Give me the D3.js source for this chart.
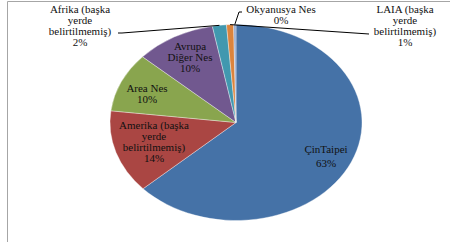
<!DOCTYPE html>
<html><head><meta charset="utf-8">
<script src="https://cdn.jsdelivr.net/npm/d3@7"></script>
<style>html,body{margin:0;padding:0;background:#fff;}svg{display:block;}</style>
</head><body>
<svg id="c" width="450" height="242"></svg>
<script>
const categories = ["ÇinTaipei", "Amerika (başka yerde belirtilmemiş)", "Area Nes", "Avrupa Diğer Nes", "Afrika (başka yerde belirtilmemiş)", "LAIA (başka yerde belirtilmemiş)", "Okyanusya Nes"];
const values = [63.2, 13.7, 9.8, 10.3, 1.8, 0.9, 0.3];
const colors = ["#4572A7", "#AA4643", "#89A54E", "#71588F", "#4198AF", "#DB843D", "#93A9CF"];
const labelLines = [
  ["ÇinTaipei"],
  ["Amerika (başka", "yerde", "belirtilmemiş)"],
  ["Area Nes"],
  ["Avrupa", "Diğer Nes"],
  ["Afrika (başka", "yerde", "belirtilmemiş)"],
  ["LAIA (başka", "yerde", "belirtilmemiş)"],
  ["Okyanusya Nes"]
];
// label anchor: center x, first baseline y
const labelPos = [[326,153],[154,129],[147,92],[190,50],[80,13],[405,13],[281,13]];
// leader line start points (near text) for outside labels
const leaderStart = {4: [[118,33],[122,33]], 5: [[369,34]], 6: [[242,12],[239,12]]};

const svg = d3.select("#c");
// frame
svg.append("path").attr("d","M7.5,242 V1.5 H450").attr("fill","none").attr("stroke","#a6a6a6").attr("stroke-width",1);

const cx = 236, cy = 122.5, rx = 126, ry = 98;
const total = d3.sum(values);
const pie = d3.pie().sort(null).value(d=>d)(values);
const arc = d3.arc().innerRadius(0).outerRadius(rx);
const g = svg.append("g").attr("transform",`translate(${cx},${cy}) scale(1,${ry/rx})`);
g.selectAll("path").data(pie).join("path")
  .attr("d",arc).attr("fill",(d,i)=>colors[i])
  .attr("stroke","#ffffff").attr("stroke-opacity",0.6).attr("stroke-width",0.6)
  .attr("vector-effect","non-scaling-stroke");

const fmt = v => Math.round(v/total*100) + "%";
// leaders
pie.forEach((d,i)=>{
  if(!leaderStart[i]) return;
  const a = (d.startAngle+d.endAngle)/2;
  const end = [cx + rx*Math.sin(a), cy - ry*Math.cos(a)];
  const pts = leaderStart[i].concat([end]);
  svg.append("path").attr("d", d3.line()(pts)).attr("fill","none").attr("stroke","#000").attr("stroke-width",1);
});
// labels
const lh = 11;
labelLines.forEach((lines,i)=>{
  const all = lines.concat([fmt(values[i])]);
  const t = svg.append("text").attr("text-anchor","middle")
    .attr("font-family","'Liberation Serif', 'Times New Roman', serif").attr("font-size","11px").attr("fill","#111");
  all.forEach((s,j)=>{
    t.append("tspan").attr("x",labelPos[i][0]).attr("y",labelPos[i][1] + (i===0 ? j*14 : j*lh)).text(s);
  });
});
</script>
</body></html>
